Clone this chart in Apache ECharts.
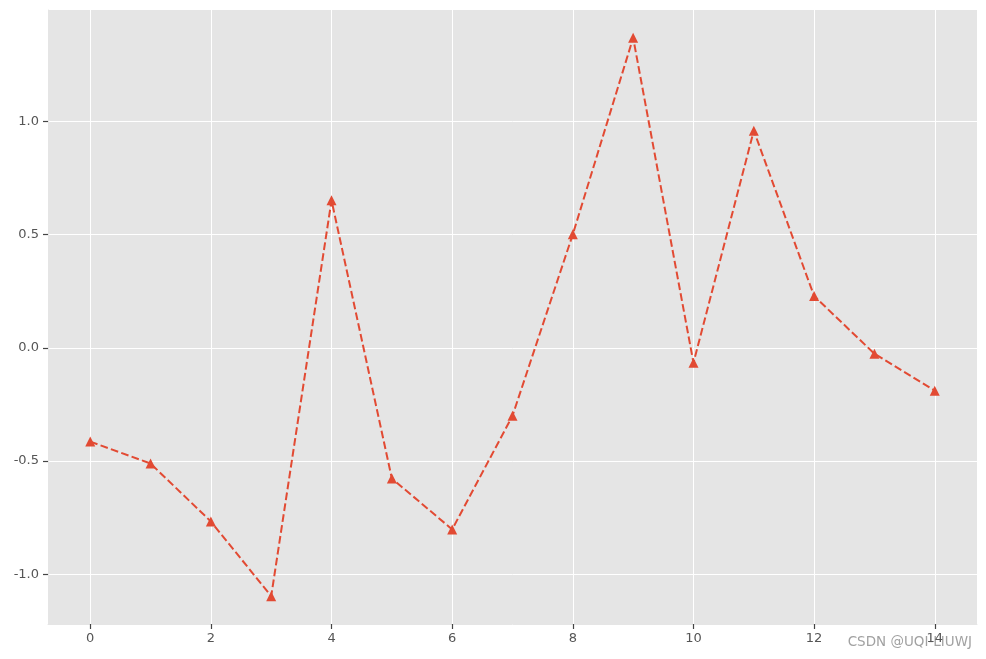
<!DOCTYPE html>
<html>
<head>
<meta charset="utf-8">
<script src="https://cdn.jsdelivr.net/npm/echarts@6/dist/echarts.min.js"></script>
<style>html,body{margin:0;padding:0;background:#fff;}#c{width:986px;height:659px;}</style>
</head>
<body>
<div id="c"></div>
<script>
var xValues = [0,1,2,3,4,5,6,7,8,9,10,11,12,13,14];
var yValues = [-0.414,-0.511,-0.767,-1.097,0.652,-0.577,-0.802,-0.300,0.502,1.370,-0.066,0.960,0.229,-0.026,-0.189];
var xTicks = [0,2,4,6,8,10,12,14];
var yTicks = [-1.0,-0.5,0.0,0.5,1.0];

var chart = echarts.init(document.getElementById('c'));
var font = 'DejaVu Sans';
chart.setOption({
  animation: false,
  backgroundColor: '#fff',
  grid: {left: 48, right: 9, top: 10, bottom: 35, show: true, backgroundColor: '#E5E5E5', borderWidth: 0},
  xAxis: {
    type: 'value', min: -0.7, max: 14.7, position: 'bottom',
    axisLine: {show: true, onZero: false, lineStyle: {color: '#E5E5E5', width: 1}},
    axisTick: {show: true, inside: false, length: 5, lineStyle: {color: '#444', width: 1.2}, customValues: xTicks},
    axisLabel: {color: '#555', fontFamily: font, fontSize: 13, margin: 8, customValues: xTicks, formatter: function(v){return String(v);}},
    splitLine: {show: true, lineStyle: {color: '#fff', width: 1}}
  },
  yAxis: {
    type: 'value', min: -1.22, max: 1.493, position: 'left',
    axisLine: {show: true, onZero: false, lineStyle: {color: '#E5E5E5', width: 1}},
    axisTick: {show: true, inside: false, length: 5, lineStyle: {color: '#444', width: 1.2}, customValues: yTicks},
    axisLabel: {color: '#555', fontFamily: font, fontSize: 13, margin: 9, customValues: yTicks, formatter: function(v){return v.toFixed(1);}},
    splitLine: {show: true, lineStyle: {color: '#fff', width: 1}}
  },
  series: [{
    type: 'line',
    data: xValues.map(function(x,i){return [x, yValues[i]];}),
    symbol: 'triangle', symbolSize: 10,
    itemStyle: {color: '#E24A33'},
    lineStyle: {color: '#E24A33', width: 2, type: [7.7, 3.3]}
  }],
  graphic: [{
    type: 'text', right: 14, top: 635,
    style: {text: 'CSDN @UQI-LIUWJ', fill: 'rgba(130,130,130,0.75)', font: '13.5px "DejaVu Sans"'}
  }]
});
</script>
</body>
</html>
